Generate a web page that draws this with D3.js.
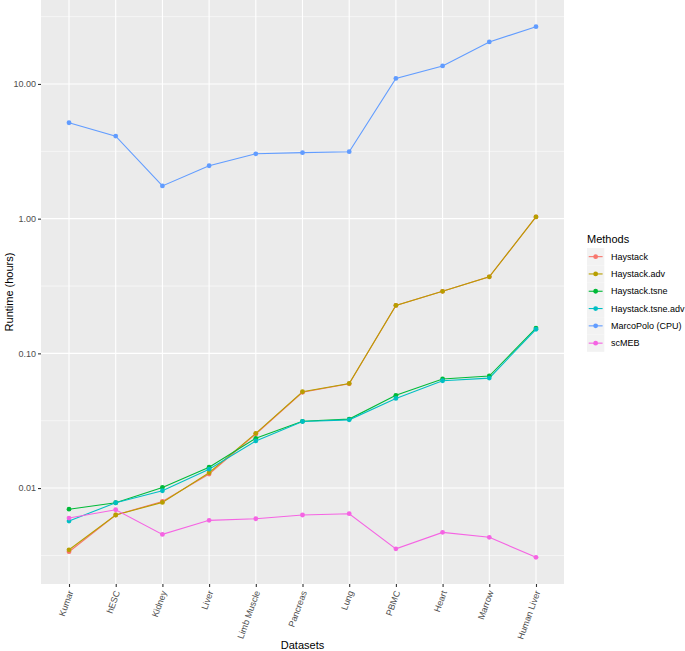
<!DOCTYPE html>
<html>
<head>
<meta charset="utf-8">
<script src="https://cdn.jsdelivr.net/npm/d3@7"></script>
<style>
  body { margin: 0; background: #fff; }
  text { font-family: "Liberation Sans", Arial, sans-serif; }
</style>
</head>
<body>
<svg id="chart"></svg>
<script>
// datasets on the x axis
const datasets = ["Kumar", "hESC", "Kidney", "Liver", "Limb Muscle", "Pancreas",
  "Lung", "PBMC", "Heart", "Marrow", "Human Liver"];

const methods = ["Haystack", "Haystack.adv", "Haystack.tsne", "Haystack.tsne.adv",
  "MarcoPolo (CPU)", "scMEB"];
const methodColors = ["#F8766D", "#B79F00", "#00BA38", "#00BFC4", "#619CFF", "#F564E3"];

// runtime in hours, one array per method
const haystack = [0.00337, 0.00631, 0.00796, 0.0127, 0.0252, 0.0514, 0.0594, 0.227, 0.289, 0.370, 1.03];
const haystackAdv = [0.00348, 0.00631, 0.00783, 0.0130, 0.0255, 0.0519, 0.0598, 0.227, 0.289, 0.370, 1.03];
const haystackTsne = [0.00697, 0.00778, 0.0101, 0.0143, 0.0234, 0.0313, 0.0325, 0.0488, 0.0645, 0.0679, 0.154];
const haystackTsneAdv = [0.00569, 0.00778, 0.00955, 0.0138, 0.0224, 0.0312, 0.0321, 0.0463, 0.0626, 0.0655, 0.151];
const marcoPolo = [5.15, 4.10, 1.75, 2.47, 3.03, 3.09, 3.14, 11.0, 13.6, 20.5, 26.6];
const scMEB = [0.00599, 0.00690, 0.00453, 0.00576, 0.00592, 0.00631, 0.00645, 0.00354, 0.00469, 0.00431, 0.00306];

const seriesValues = [haystack, haystackAdv, haystackTsne, haystackTsneAdv, marcoPolo, scMEB];

const yTicks = [0.01, 0.1, 1, 10];
const yMinor = [0.00316, 0.0316, 0.316, 3.16, 31.6];

const W = 685, H = 651;
const panel = { left: 41, right: 564, top: 0, bottom: 584 };

const svg = d3.select("#chart").attr("width", W).attr("height", H);

const x = d3.scalePoint()
  .domain(datasets)
  .range([panel.left, panel.right])
  .padding(0.6);

const y = d3.scaleLog()
  .domain([0.00194, 42])
  .range([panel.bottom, panel.top]);

// panel background
svg.append("rect")
  .attr("x", panel.left).attr("y", panel.top)
  .attr("width", panel.right - panel.left)
  .attr("height", panel.bottom - panel.top)
  .attr("fill", "#EBEBEB");

// grid
svg.append("g").selectAll("line").data(yMinor).join("line")
  .attr("x1", panel.left).attr("x2", panel.right)
  .attr("y1", d => y(d)).attr("y2", d => y(d))
  .attr("stroke", "#fff").attr("stroke-width", 0.55);

svg.append("g").selectAll("line").data(yTicks).join("line")
  .attr("x1", panel.left).attr("x2", panel.right)
  .attr("y1", d => y(d)).attr("y2", d => y(d))
  .attr("stroke", "#fff").attr("stroke-width", 1.1);

svg.append("g").selectAll("line").data(datasets).join("line")
  .attr("x1", d => x(d)).attr("x2", d => x(d))
  .attr("y1", panel.top).attr("y2", panel.bottom)
  .attr("stroke", "#fff").attr("stroke-width", 1.1);

// axes
const xAxis = svg.append("g")
  .attr("transform", `translate(0,${panel.bottom})`)
  .call(d3.axisBottom(x).tickSize(3).tickSizeOuter(0));
xAxis.select(".domain").remove();
xAxis.selectAll(".tick line").attr("stroke", "#333").attr("stroke-width", 1.1);
xAxis.selectAll(".tick text")
  .attr("fill", "#4D4D4D")
  .style("font-size", "9px")
  .attr("text-anchor", "end")
  .attr("dy", null)
  .attr("y", 0)
  .attr("transform", "translate(4,8) rotate(-70)");

const yAxis = svg.append("g")
  .attr("transform", `translate(${panel.left},0)`)
  .call(d3.axisLeft(y).tickValues(yTicks).tickFormat(d3.format(".2f")).tickSize(3).tickPadding(2));
yAxis.select(".domain").remove();
yAxis.selectAll(".tick line").attr("stroke", "#333").attr("stroke-width", 1.1);
yAxis.selectAll(".tick text").attr("fill", "#4D4D4D").style("font-size", "9px");

// axis titles
svg.append("text")
  .attr("x", (panel.left + panel.right) / 2).attr("y", 649)
  .attr("text-anchor", "middle").style("font-size", "11px")
  .text("Datasets");

svg.append("text")
  .attr("transform", `translate(13,${(panel.top + panel.bottom) / 2}) rotate(-90)`)
  .attr("text-anchor", "middle").style("font-size", "11px")
  .text("Runtime (hours)");

// lines then points
const line = d3.line()
  .x((d, i) => x(datasets[i]))
  .y(d => y(d));

svg.append("g").selectAll("path").data(seriesValues).join("path")
  .attr("d", line)
  .attr("fill", "none")
  .attr("stroke", (d, i) => methodColors[i])
  .attr("stroke-width", 1.1);

seriesValues.forEach((vals, k) => {
  svg.append("g").selectAll("circle").data(vals).join("circle")
    .attr("cx", (d, i) => x(datasets[i]))
    .attr("cy", d => y(d))
    .attr("r", 2.4)
    .attr("fill", methodColors[k]);
});

// legend
const legend = svg.append("g").attr("transform", "translate(587,248)");
legend.append("text")
  .attr("x", 0).attr("y", -5)
  .style("font-size", "11px")
  .text("Methods");

const item = legend.selectAll("g").data(methods).join("g")
  .attr("transform", (d, i) => `translate(0,${i * 17.3})`);
item.append("rect")
  .attr("width", 17.3).attr("height", 17.3)
  .attr("fill", "#F2F2F2");
item.append("line")
  .attr("x1", 1.7).attr("x2", 15.6)
  .attr("y1", 8.65).attr("y2", 8.65)
  .attr("stroke", (d, i) => methodColors[i])
  .attr("stroke-width", 1.1);
item.append("circle")
  .attr("cx", 8.65).attr("cy", 8.65).attr("r", 2.4)
  .attr("fill", (d, i) => methodColors[i]);
item.append("text")
  .attr("x", 24).attr("y", 8.65).attr("dy", "0.35em")
  .style("font-size", "9px")
  .text(d => d);
</script>
</body>
</html>
